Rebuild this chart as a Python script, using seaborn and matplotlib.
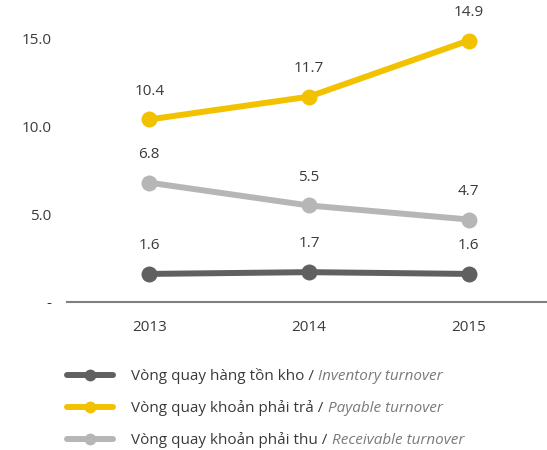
import matplotlib
matplotlib.use("Agg")
import matplotlib.pyplot as plt
import seaborn as sns
import pandas as pd
from matplotlib.lines import Line2D

years = ["2013", "2014", "2015"]
inventory = [1.6, 1.7, 1.6]
payable = [10.4, 11.7, 14.9]
receivable = [6.8, 5.5, 4.7]

series_vi = ["Vòng quay hàng tồn kho", "Vòng quay khoản phải trả", "Vòng quay khoản phải thu"]
series_en = ["Inventory turnover", "Payable turnover", "Receivable turnover"]
colors = ["#606060", "#F2C200", "#B6B6B7"]
yticks = [0, 5, 10, 15]
ytick_labels = ["-", "5.0", "10.0", "15.0"]

sns.set_theme(style="white")
plt.rcParams["font.family"] = ["Open Sans", "DejaVu Sans"]

rows = []
for name, vals in zip(series_vi, [inventory, payable, receivable]):
    for i, (y, v) in enumerate(zip(years, vals)):
        rows.append({"x": i, "year": y, "series": name, "value": v})
df = pd.DataFrame(rows)

FS = 11
TXT = "#3a3a3a"

fig = plt.figure(figsize=(5.47, 4.5), dpi=100)
ax = fig.add_axes([67 / 547, 1 - 302 / 450, 1 - 67 / 547, 302 / 450])

for name, col in zip(series_vi, colors):
    sub = df[df["series"] == name]
    sns.lineplot(data=sub, x="x", y="value", ax=ax, color=col, linewidth=4.3,
                 marker="o", markersize=11.5, markeredgewidth=0, legend=False)
    for _, r in sub.iterrows():
        ax.annotate(f"{r['value']:.1f}", (r["x"], r["value"]), xytext=(0, 15),
                    textcoords="offset points", ha="center", va="bottom",
                    fontsize=FS, color=TXT)

ax.set_xlim(-0.515, 2.49)
ax.set_ylim(0, 302 / 17.55)
ax.set_xticks(range(len(years)))
ax.set_xticklabels(years)
ax.set_yticks(yticks)
ax.set_yticklabels(ytick_labels)
ax.tick_params(axis="both", length=0, labelsize=FS, colors=TXT)
ax.tick_params(axis="x", pad=13)
ax.tick_params(axis="y", pad=11)
ax.set_xlabel("")
ax.set_ylabel("")
for s in ["top", "right", "left"]:
    ax.spines[s].set_visible(False)
ax.spines["bottom"].set_color("#808080")
ax.spines["bottom"].set_linewidth(1.5)

# legend
handles = [Line2D([0], [0], color=c, lw=4.3, marker="o", markersize=8.5, markeredgewidth=0)
           for c in colors]
labels = [v + " /" for v in series_vi]
leg = fig.legend(handles, labels, loc="upper left", bbox_to_anchor=(67 / 547, 1 - 368 / 450),
                 frameon=False, fontsize=FS, handlelength=3.0, handletextpad=1.2,
                 labelspacing=1.05, labelcolor=TXT, borderpad=0, borderaxespad=0)
fig.canvas.draw()
renderer = fig.canvas.get_renderer()
for t, en in zip(leg.get_texts(), series_en):
    bb = t.get_window_extent(renderer)
    x = bb.x1 / fig.bbox.width
    y = (bb.y0 + bb.y1) / 2 / fig.bbox.height
    fig.text(x, y, " " + en, fontsize=FS, color="#7a7a7a",
             style="italic", va="center", ha="left")

fig.savefig("out.png", dpi=100)
